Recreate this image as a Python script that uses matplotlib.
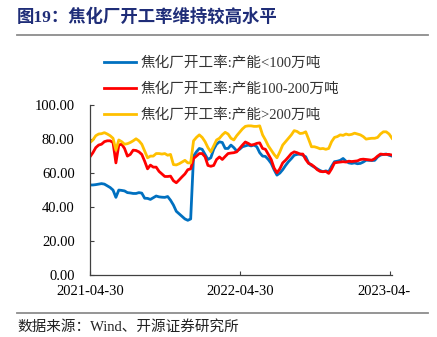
import matplotlib
matplotlib.use('Agg')
import matplotlib.pyplot as plt
import matplotlib.transforms as mtransforms
import pandas as pd

plt.rcParams['font.family'] = ['Liberation Serif', 'Noto Sans CJK SC']
plt.rcParams['axes.unicode_minus'] = False

# 周度数据
dates = pd.date_range('2021-04-30', periods=106, freq='7D')

rate_small = [53, 53, 53.2, 53.5, 53.8, 53.5, 52.5, 51.5, 50, 45.7,
              50, 49.8, 49.5, 48.5, 48.3, 48, 48, 48.5, 48.2, 45.2,
              45.1, 44.5, 45.5, 46.5, 46, 45.8, 45.7, 46.2, 44, 41.2,
              37.5, 36, 34.5, 33, 32.2, 33, 70, 72.5, 74.5, 74,
              71, 68, 69, 74, 77, 78.4, 78, 74.5, 74.5, 76.5,
              75, 73, 74, 75.5, 76, 76.5, 76, 76.5, 75.5, 72,
              70, 69.8, 68, 65.7, 62, 58.8, 60, 62, 64.5, 66.7,
              68.5, 70.5, 71, 71.2, 70.5, 69.6, 66, 64.5, 63.5, 62.5,
              61.5, 60.8, 61.3, 60.8, 64, 66.7, 67, 67.5, 68.6, 67,
              66, 65.7, 66, 65.5, 65.7, 66.5, 67.6, 67.5, 67.4, 67.5,
              69.5, 70.6, 71, 71.2, 70.5, 70]

rate_mid = [69.6, 72, 75, 76.5, 77, 78.5, 79, 79, 78, 66,
            76.5, 77, 74.5, 70, 71, 73.5, 73.3, 72.5, 71, 67,
            62.5, 64.7, 63.5, 63.5, 61, 59.5, 58, 58, 58.2, 55.5,
            54.3, 56, 57.8, 59.5, 62, 62.5, 68.6, 70, 71.5, 71.5,
            69.6, 64.5, 64, 64.5, 68, 69.5, 68, 69.8, 71.5, 71.8,
            72, 72.5, 74.5, 76.5, 78.3, 77.5, 76.5, 76.8, 77.5, 77.8,
            74.5, 74, 71, 68, 63, 60.2, 62.5, 66, 67.6, 69.5,
            71.5, 72.5, 72, 71.2, 71.2, 68, 65.7, 65, 63.7, 62,
            61, 60.8, 61, 59.8, 62.5, 66, 66.3, 66.5, 66.7, 66.5,
            67, 66.8, 67, 67.2, 68, 68.2, 68, 67.8, 67.6, 68.5,
            70, 71.2, 71, 71, 71, 70.6]

rate_large = [78, 79.5, 82, 83, 83.2, 83.8, 83, 82, 80.5, 73.5,
              79.5, 78.5, 77, 77.3, 78, 79, 80.2, 79, 77, 73,
              69, 70, 70, 71.5, 71.5, 71.2, 71.5, 70.5, 71, 65,
              64.8, 65.5, 66.5, 67.5, 66, 66, 79, 81, 82.5, 81,
              78.5, 75, 72.5, 76, 79.5, 80.5, 82.5, 84, 83, 80.5,
              79.5, 82, 84, 86, 87.5, 87.8, 87.8, 87.5, 87.5, 87.8,
              82.5, 79.5, 76, 73.5, 71, 69, 72.5, 76.5, 78.5, 80.5,
              82.5, 85, 84.5, 83.3, 83.5, 84.3, 80, 75.5, 75.5, 75,
              74.3, 74.5, 74, 74.5, 78.5, 81, 81.5, 82.5, 82.2, 83,
              82.5, 82.8, 83.5, 83, 82.5, 81.5, 80, 80.3, 80.5, 80.5,
              81, 83, 84.3, 84.3, 83, 80.5]

labels = ['焦化厂开工率:产能<100万吨', '焦化厂开工率:产能100-200万吨', '焦化厂开工率:产能>200万吨']
colors = ['#0070C0', '#FF0000', '#FFC000']
tick_dates = pd.to_datetime(['2021-04-30', '2022-04-30', '2023-04-30'])
tick_labels = ['2021-04-30', '2022-04-30', '2023-04-']

fig = plt.figure(figsize=(4.37, 3.37), dpi=100)
ax = fig.add_axes([0.206, 0.184, 0.691, 0.504])

for vals, lab, c in zip([rate_small, rate_mid, rate_large], labels, colors):
    ax.plot(dates, vals, color=c, lw=2, label=lab)

ax.set_ylim(0, 100)
ax.set_yticks([0, 20, 40, 60, 80, 100])
ax.yaxis.set_major_formatter(plt.FuncFormatter(lambda v, p: '%.2f' % v))
ax.set_xlim(dates[0], dates[-1])
ax.set_xticks(tick_dates)
ax.set_xticklabels(tick_labels)

for s in ['top', 'right']:
    ax.spines[s].set_visible(False)
for s in ['left', 'bottom']:
    ax.spines[s].set_color('#404040')
    ax.spines[s].set_linewidth(0.9)
ax.tick_params(axis='y', direction='in', length=3, pad=11, labelsize=10.5, color='#404040')
ax.tick_params(axis='x', direction='in', length=3, pad=7, labelsize=10.5, color='#404040')

# 最后一个日期标签左对齐, 被裁掉一半
last = ax.get_xticklabels()[-1]
last.set_ha('left')
last.set_transform(last.get_transform() + mtransforms.ScaledTranslation(-0.33, 0, fig.dpi_scale_trans))

leg = ax.legend(loc='upper left', bbox_to_anchor=(104 / 437, 1 - 56 / 337),
                bbox_transform=fig.transFigure, frameon=False, fontsize=10.5,
                handlelength=2.2, handletextpad=0.3, labelspacing=0.85,
                borderpad=0, borderaxespad=0)
for t in leg.get_texts():
    t.set_color('#333333')

fig.text(17 / 437, 1 - 17 / 337, '图19：焦化厂开工率维持较高水平', fontsize=12.5,
         fontweight='bold', color='#1F2D78', va='center', ha='left')
fig.add_artist(plt.Line2D([17 / 437, 428 / 437], [1 - 35 / 337, 1 - 35 / 337],
                          color='#8C8C8C', lw=1.3))
fig.add_artist(plt.Line2D([17 / 437, 428 / 437], [1 - 313 / 337, 1 - 313 / 337],
                          color='#8C8C8C', lw=1.3))
fig.text(17 / 437, 1 - 327 / 337, '数据来源：Wind、开源证券研究所', fontsize=10.5,
         color='#222222', va='center', ha='left')

fig.savefig('out.png', dpi=100)
